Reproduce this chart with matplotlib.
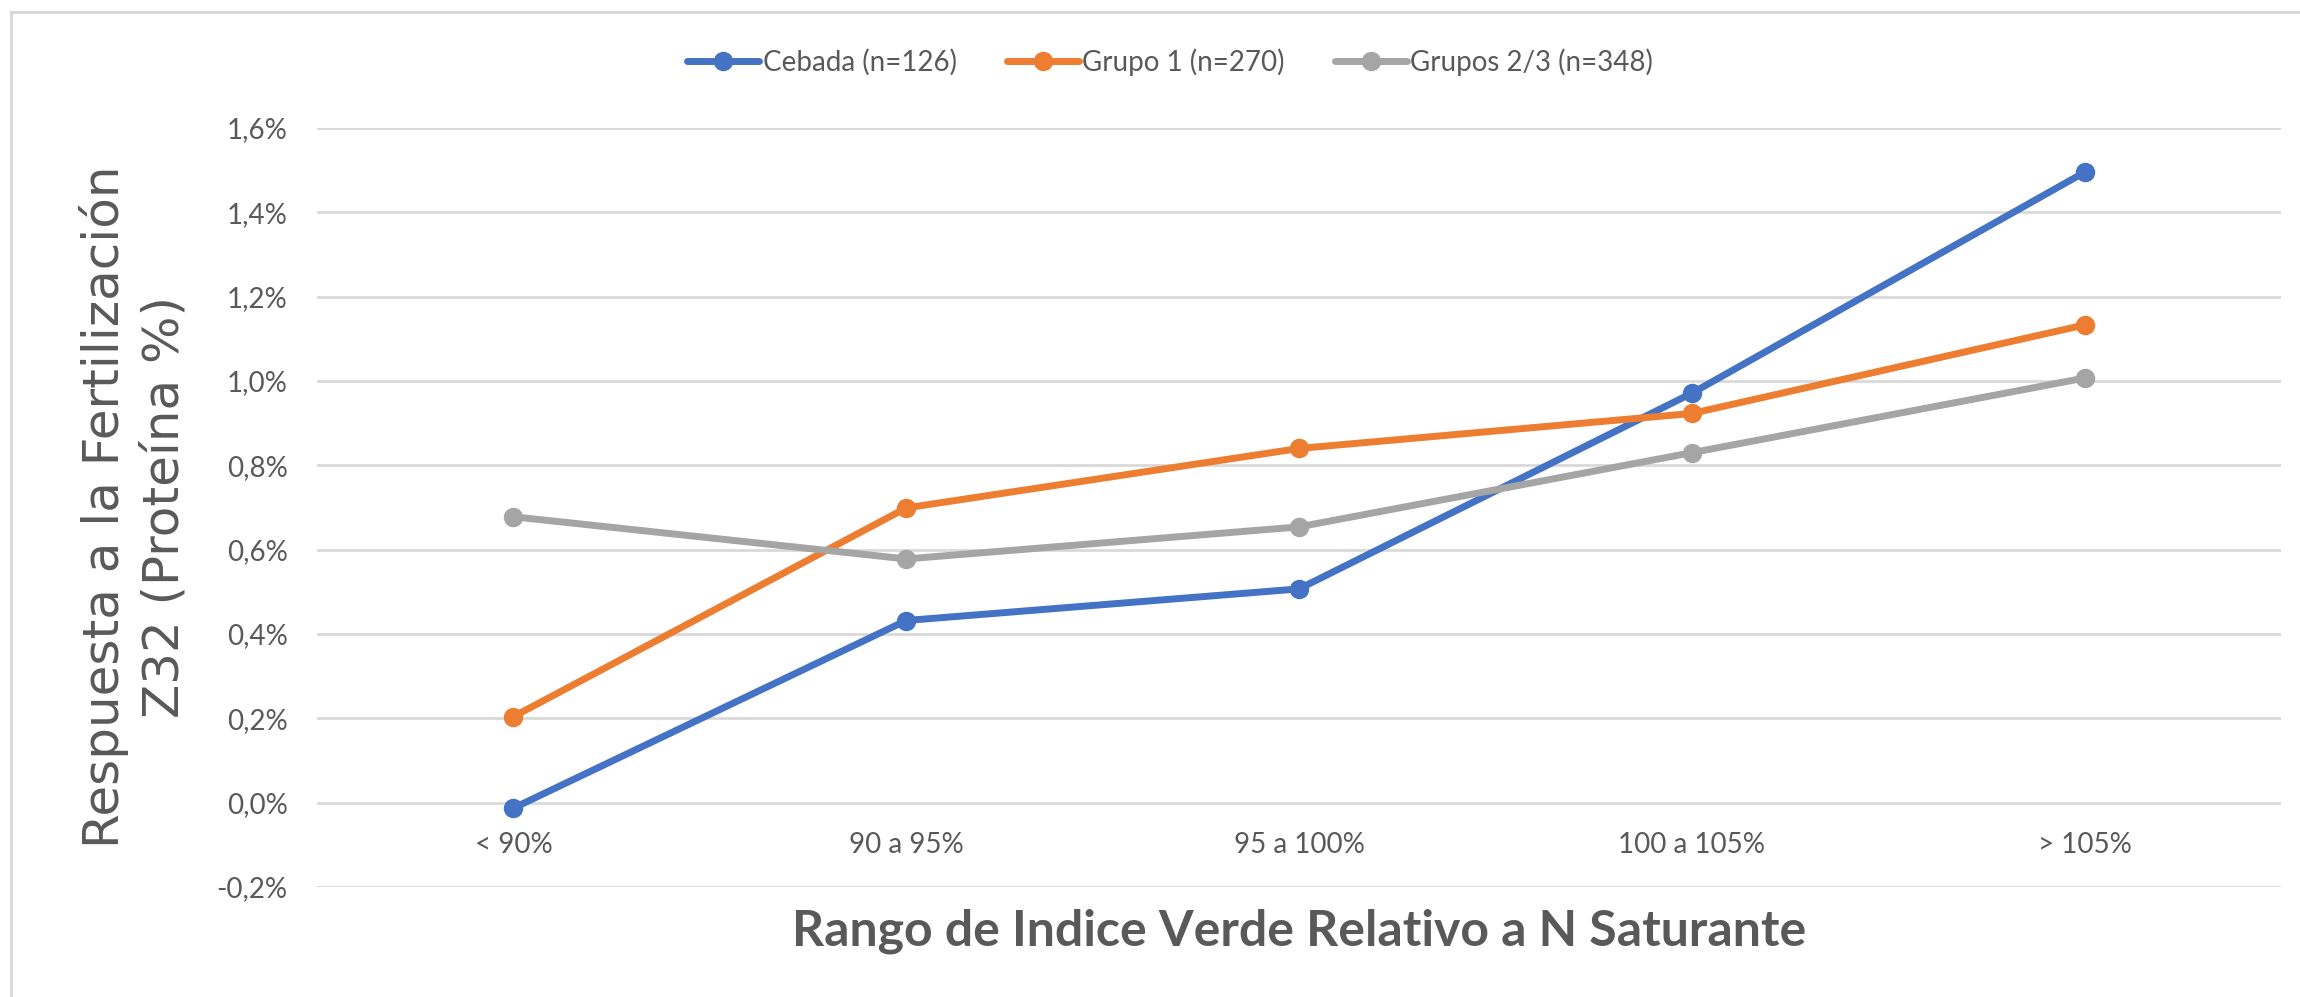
import matplotlib.pyplot as plt
import matplotlib.lines as lines
from matplotlib.ticker import FuncFormatter
import numpy as np

# rangos de indice verde (eje x)
categorias = ['< 90%', '90 a 95%', '95 a 100%', '100 a 105%', '> 105%']

# respuesta en proteina (%)
cebada = [-0.013, 0.432, 0.507, 0.971, 1.495]
grupo1 = [0.204, 0.699, 0.840, 0.923, 1.133]
grupos23 = [0.678, 0.578, 0.654, 0.830, 1.007]

series_labels = ['Cebada (n=126)', 'Grupo 1 (n=270)', 'Grupos 2/3 (n=348)']
series_colors = ['#4472C4', '#ED7D31', '#A5A5A5']

y_ticks = [-0.2, 0.0, 0.2, 0.4, 0.6, 0.8, 1.0, 1.2, 1.4, 1.6]

txt_color = '#595959'
grid_color = '#D9D9D9'
small_font = ['Lato', 'DejaVu Sans']

W, H = 2300, 997
fig = plt.figure(figsize=(W / 100, H / 100), dpi=100)

# area de grafico
left, right = 317 / W, 2281 / W
bottom, top = 1 - 887 / H, 1 - 128 / H
ax = fig.add_axes([left, bottom, right - left, top - bottom])

x = np.arange(len(categorias))
for vals, lab, col in zip([cebada, grupo1, grupos23], series_labels, series_colors):
    ax.plot(x, vals, color=col, lw=5, marker='o', markersize=13,
            markeredgecolor=col, label=lab, zorder=3, solid_capstyle='round')

ax.set_xlim(-0.5, len(categorias) - 0.5)
ax.set_ylim(-0.2, 1.6)
ax.set_yticks(y_ticks)
ax.yaxis.set_major_formatter(FuncFormatter(
    lambda v, p: ('%.1f%%' % (0.0 if abs(v) < 1e-9 else v)).replace('.', ',')))
ax.set_xticks(x)
ax.set_xticklabels(categorias)

ax.grid(axis='y', color=grid_color, lw=2.0, zorder=0)
ax.set_axisbelow(True)
for s in ax.spines.values():
    s.set_visible(False)
# etiquetas de categoria sobre el cero, como en excel
ax.spines['bottom'].set_position(('data', 0))
ax.tick_params(axis='both', length=0, colors=txt_color, labelsize=20)
ax.tick_params(axis='y', pad=21)
ax.tick_params(axis='x', pad=21)
for t in ax.get_xticklabels() + ax.get_yticklabels():
    t.set_family(small_font)

# titulos de ejes
fig.text(134 / W, 1 - 507 / H, 'Respuesta a la Fertilización\nZ32 (Proteína %)',
         rotation=90, ha='center', va='center', multialignment='center',
         fontsize=36, color=txt_color, linespacing=1.3, family='DejaVu Sans')
fig.text(1299 / W, 1 - 945 / H, 'Rango de Indice Verde Relativo a N Saturante',
         ha='center', va='baseline', fontsize=36, fontweight='bold',
         color=txt_color, family=small_font)

leg = fig.legend(loc='center', bbox_to_anchor=(1170 / W, 1 - 62 / H), ncol=3,
                 frameon=False, handlelength=2.6, handletextpad=0.12,
                 columnspacing=1.8, borderpad=0, numpoints=1,
                 prop={'family': small_font, 'size': 20})
for t in leg.get_texts():
    t.set_color(txt_color)

# marco del area de grafico (solo se ven lados izquierdo y superior)
fig.add_artist(lines.Line2D([11 / W, 11 / W], [0, 1 - 12 / H], color=grid_color, lw=2.2))
fig.add_artist(lines.Line2D([11 / W, 1], [1 - 12 / H, 1 - 12 / H], color=grid_color, lw=2.2))

fig.savefig('out.png', dpi=100, facecolor='white')
